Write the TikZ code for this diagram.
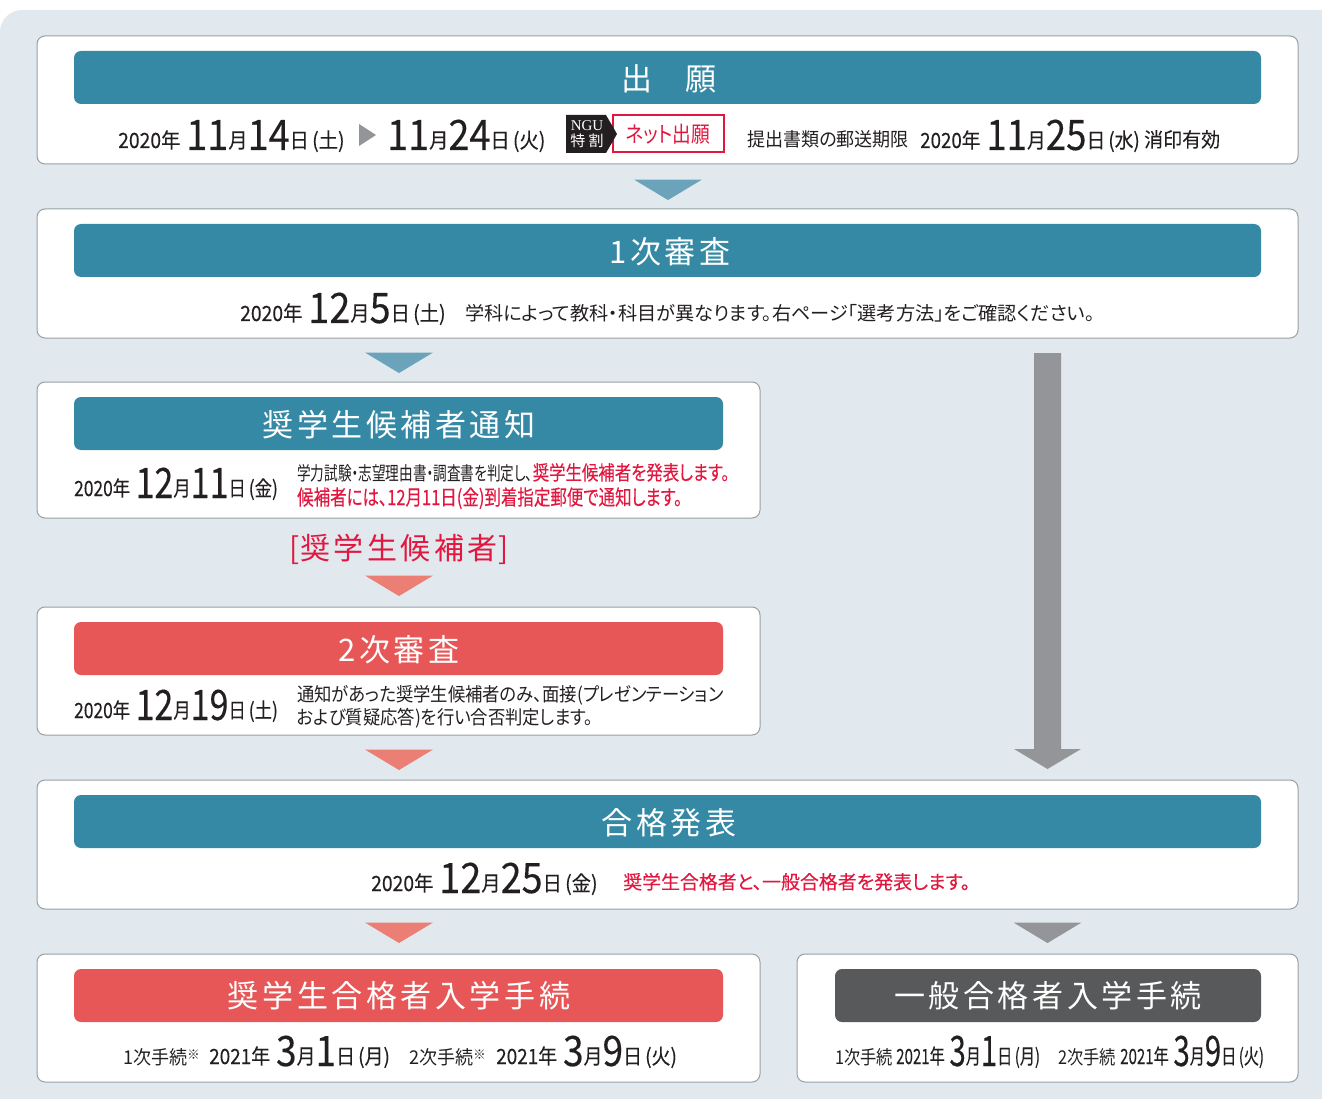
\documentclass[tikz,border=0pt]{standalone}
\usepackage{fontspec}
\usepackage{graphicx}
\usetikzlibrary{shapes.geometric}
\setmainfont[RawFeature=+palt]{Noto Sans CJK JP}
\newfontfamily\barfont[LetterSpace=11.5]{Noto Sans CJK JP}
\newfontfamily\numfont[FakeBold=0.25]{Noto Sans CJK JP}
\newfontfamily\dayfont[RawFeature=+palt,FakeBold=0.12]{Noto Sans CJK JP}
\newfontfamily\serifnum{Liberation Serif}
\definecolor{panelbg}{HTML}{E1E9EF}
\definecolor{boxline}{HTML}{98A0A4}
\definecolor{teal}{HTML}{3589A5}
\definecolor{tealtri}{HTML}{6BA3BA}
\definecolor{redbar}{HTML}{E85757}
\definecolor{redtri}{HTML}{EB7F75}
\definecolor{graybar}{HTML}{58595B}
\definecolor{graytri}{HTML}{939598}
\definecolor{redtxt}{HTML}{E2173F}
\definecolor{ink}{HTML}{231F20}
\newcommand\hz[2][.92]{\scalebox{#1}[1]{#2}}
\newcommand\sm[1]{\raisebox{2pt}{\hz{\dayfont\fontsize{21}{21}\selectfont #1}}}
\newcommand\bg[1]{\hz[.9]{\numfont\fontsize{42}{42}\selectfont #1}}
\newcommand\txt[2][19]{\hz[.95]{\fontsize{#1}{#1}\selectfont #2}}
% year, month, day, weekday
\newcommand\dayline[4]{\sm{#1年}\kern6pt\bg{#2}\sm{月}\bg{#3}\sm{日\,(#4)}}
\tikzset{
	stepbox/.style={draw=boxline,line width=1pt,fill=white,rounded corners=8pt},
	barbox/.style={rounded corners=7pt,text=white},
	bartext/.style={text=white,font=\barfont\fontsize{31}{31}\selectfont,inner sep=0pt},
	chunk/.style={anchor=base west,inner sep=0pt,text=ink},
	flowtri/.style={isosceles triangle,isosceles triangle stretches,shape border rotate=-90,
		minimum width=68pt,minimum height=20.5pt,inner sep=0pt,outer sep=0pt},
}
\begin{document}
\begin{tikzpicture}[x=1pt,y=-1pt]
	\useasboundingbox (0,0) rectangle (1322,1099);
	\fill[panelbg,rounded corners=22pt] (0,10) rectangle (1345,1130);
	% boxes
	\draw[stepbox] (37,36) rectangle (1298,164);
	\draw[stepbox] (37,209) rectangle (1298,338);
	\draw[stepbox] (37,382) rectangle (760,518);
	\draw[stepbox] (37,607) rectangle (760,735);
	\draw[stepbox] (37,780) rectangle (1298,909);
	\draw[stepbox] (37,954) rectangle (760,1082);
	\draw[stepbox] (797,954) rectangle (1298,1082);
	% bars
	\fill[barbox,teal] (74,51) rectangle (1261,104);
	\fill[barbox,teal] (74,224) rectangle (1261,277);
	\fill[barbox,teal] (74,397) rectangle (723,450);
	\fill[barbox,redbar] (74,622) rectangle (723,675);
	\fill[barbox,teal] (74,795) rectangle (1261,848);
	\fill[barbox,redbar] (74,969) rectangle (723,1022);
	\fill[barbox,graybar] (835,969) rectangle (1261,1022);
	\node[bartext] (apply) at (669,79) {出\hspace{1.05em}願};
	\node[bartext] (first) at (670,252) {1次審査};
	\node[bartext] (notice) at (399,425) {奨学生候補者通知};
	\node[bartext] (second) at (399,650) {2次審査};
	\node[bartext] (result) at (669,823) {合格発表};
	\node[bartext] (enrollS) at (399,996) {奨学生合格者入学手続};
	\node[bartext] (enrollG) at (1048,996) {一般合格者入学手続};
	% triangles
	\node[flowtri,fill=tealtri] (t1) at (668,189) {};
	\node[flowtri,fill=tealtri] (t2) at (399,362) {};
	\node[flowtri,fill=redtri] (t3) at (399,585) {};
	\node[flowtri,fill=redtri] (t4) at (399,759) {};
	\node[flowtri,fill=redtri] (t5) at (399,932) {};
	\node[flowtri,fill=graytri] (t6) at (1047.5,932) {};
	\coordinate (skipA) at (1047.5,353);
	\coordinate (skipB) at (1047.5,769);
	\fill[graytri] (skipA) ++(-13.5,0) -- ++(27,0) -- ++(0,396) -- ++(20,0) -- (skipB) -- ++(-33.5,-20) -- ++(20,0) -- cycle;
	% apply
	\node[chunk] (a1) at (118,150) {\dayline{2020}{11}{14}{土}};
	\node[fill=graytri,isosceles triangle,isosceles triangle stretches,minimum width=22pt,minimum height=17pt,inner sep=0pt] (a2) at (365,135) {};
	\node[chunk] (a3) at (387,150) {\bg{11}\sm{月}\bg{24}\sm{日\,(火)}};
	\node[draw=redtxt,line width=2pt,fill=white,text=redtxt,minimum width=111pt,minimum height=37pt,inner sep=0pt] (a5) at (668,134) {\hz[.85]{\fontsize{22}{22}\selectfont ネット出願}};
	\fill[ink] (566,115) -- (606,115) -- (617,134) -- (606,153) -- (566,153) -- cycle;
	\node[inner sep=0pt,text=white,align=center,font=\fontsize{15}{16}\selectfont] (a4) at (587,134) {{\serifnum NGU}\\特 割};
	\node[chunk] (a6) at (747,147) {\txt{提出書類の郵送期限}};
	\node[chunk] (a7) at (920,150) {\hz[.97]{\dayline{2020}{11}{25}{水}}};
	\node[chunk] (a8) at (1144,147) {\txt[20]{\dayfont 消印有効}};
	% first
	\node[chunk] (b1) at (240,323) {\dayline{2020}{12}{5}{土}};
	\node[chunk] (b2) at (465,320) {\hz[1.01]{\fontsize{19}{19}\selectfont 学科によって教科・科目が異なります。右ページ「選考方法」をご確認ください。}};
	% notice
	\node[chunk] (c1) at (74,498) {\hz[.9]{\dayline{2020}{12}{11}{金}}};
	\node[chunk] (c2) at (297,480) {\hz[.718]{\fontsize{19}{19}\selectfont 学力試験・志望理由書・調査書を判定し、}\hz[.82]{\dayfont\fontsize{20}{20}\selectfont\textcolor{redtxt}{奨学生候補者を発表します。}}};
	\node[chunk,text=redtxt] (c3) at (297,505) {\hz[.785]{\dayfont\fontsize{21}{21}\selectfont 候補者には、12月11日(金)到着指定郵便で通知します。}};
	\node[inner sep=0pt,text=redtxt,font=\barfont\fontsize{30}{30}\selectfont] (c4) at (399,549) {[\kern1pt奨学生候補者\kern1pt]};
	% second
	\node[chunk] (d1) at (74,720) {\hz[.9]{\dayline{2020}{12}{19}{土}}};
	\node[chunk] (d2) at (297,701) {\hz[.913]{\fontsize{19}{19}\selectfont 通知があった奨学生候補者のみ、面接(プレゼンテーション}};
	\node[chunk] (d3) at (297,724) {\hz[.913]{\fontsize{19}{19}\selectfont および質疑応答)を行い合否判定します。}};
	% result
	\node[chunk] (e1) at (371,893) {\dayline{2020}{12}{25}{金}};
	\node[chunk,text=redtxt] (e2) at (623,889) {\hz[.996]{\dayfont\fontsize{19}{19}\selectfont 奨学生合格者と、一般合格者を発表します。}};
	% enroll
	\node[chunk] (f1) at (123,1064) {\txt{1次手続}\raisebox{5pt}{\txt[13]{※}}};
	\node[chunk] (f2) at (209,1066) {\hz[.98]{\dayline{2021}{3}{1}{月}}};
	\node[chunk] (f3) at (409,1064) {\txt{2次手続}\raisebox{5pt}{\txt[13]{※}}};
	\node[chunk] (f4) at (496,1066) {\hz[.98]{\dayline{2021}{3}{9}{火}}};
	\node[chunk] (g1) at (835,1064) {\hz[.9]{\txt{1次手続}}};
	\node[chunk] (g2) at (896,1066) {\hz[.78]{\dayline{2021}{3}{1}{月}}};
	\node[chunk] (g3) at (1058,1064) {\hz[.9]{\txt{2次手続}}};
	\node[chunk] (g4) at (1120,1066) {\hz[.78]{\dayline{2021}{3}{9}{火}}};
\end{tikzpicture}
\end{document}
